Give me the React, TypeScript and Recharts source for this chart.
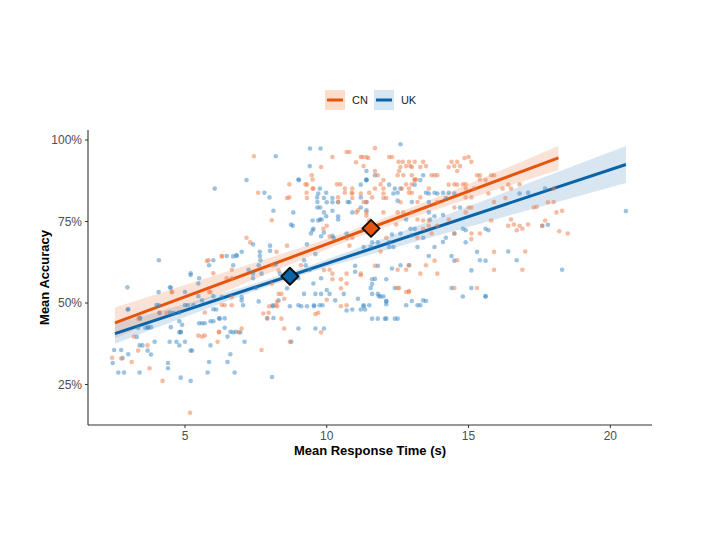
import React from 'react';
import { ComposedChart, XAxis, YAxis, Scatter, Line, Area, Label } from 'recharts';

// Raw observations: [response time (s), accuracy (%)]
const cnPoints: [number, number][] = [
  [7.43,95],[10.7,96.3],[10.8,96.3],[11.7,97.5],[10.2,94.8],[11.03,93.2],[11.27,94.8],[11.46,94.5],[9.47,89.2],[8.68,86.4],
  [9.25,86.4],[9.53,85.1],[10.36,86.4],[10.48,86.4],[11.7,85.1],[7.58,83.8],[8.68,82.4],[9.29,83.8],[10.64,85.1],[10.64,83.8],
  [10.88,83.8],[11.5,83.8],[11.6,82.4],[10.4,82.4],[11.3,81],[11.1,78.4],[8.06,75.4],[9.88,72.8],[10.7,69.9],[10.9,70],
  [7.17,70],[7.3,68.6],[5.83,63.1],[6.3,64.4],[8.23,65.7],[6.65,60.2],[8.1,61.6],[9.09,61.6],[6.0,59.1],[6.47,57.6],
  [6.65,57.6],[8.06,56],[10.1,60.2],[10.2,59],[10.7,59],[11.2,59],[4.53,53.4],[5.9,53.4],[6.65,51.8],[7.76,46.8],
  [7.97,49],[8.25,49],[9.6,46.6],[10.0,51],[10.5,49],[10.7,56],
  [3.36,45.2],[4.1,47.1],[5.7,47.1],[6.4,49.3],[6.65,49.3],[3.68,37],[3.2,39.7],[5.6,39.7],[6.2,41],[6.15,38.1],
  [6.9,41],[7.0,42.2],[2.43,33.2],[2.75,33],[3.12,31.9],[3.35,35.4],[3.75,30],[4.21,26.1],[5.18,16.3],[7.7,35.6],
  [7.9,45.2],[7.95,47],[8.2,49.3],[8.4,45.2],[8.5,42.2],[8.7,38.1],[9.7,47],[9.8,41],[10.7,49.3],[12.9,53.7],
  [11.2,94.8],[11.4,94.8],[12.2,94.8],[12.3,94.8],[11.3,92],[11.7,90.5],[11.8,89.2],[12.0,87.7],[11.9,86.4],[12.53,93.3],
  [12.68,93.3],[12.8,92],[12.95,92],[13.1,93.3],[13.4,93.3],[13.5,92],[12.55,90.5],[12.7,89.2],[13.0,89.2],[13.1,87.7],
  [13.7,89.2],[13.9,89.2],[14.6,93.3],[14.5,92],[14.7,92],[15.0,94.8],[15.1,93.3],[14.6,90.5],[14.9,86.4],[14.8,86.4],
  [14.9,85.1],[15.4,89.2],[15.9,89.2],[15.6,87.7],[14.5,86.4],[12.65,85.1],[12.9,85.1],[12.8,86.4],[13.0,86.4],[13.0,83.8],
  [12.9,83.8],[13.6,85.1],[13.3,82.4],[13.2,81],[13.9,81],[14.9,82.4],[15.1,82.4],[15.9,81],[16.5,85.1],[16.8,86.4],
  [18.0,85.1],[17.4,79.5],[18.0,81],[18.3,78.3],[17.1,74.1],[16.9,72.8],[16.6,74.1],[16.5,75.6],[18.5,71.3],[15.4,71.3],
  [15.1,71.3],[14.3,75.6],[13.2,75.6],[13.4,72.8],[12.1,70],[12.45,74.1],[11.9,65.8],[14.6,63.1],[15.1,69.6],[17.0,65.8],
  [16.9,60.2],[13.9,59],[13.5,61.6],[12.8,60.2],[12.5,54.6],[12.9,53.4],[15.3,54.6],
  [9.8,91.7],[12.6,91.7],[13.3,91.7],[12.5,89.2],[9.5,87.9],[13.1,87.9],[13.15,87.9],[9.3,86.3],[10.9,85.1],[12.0,85.1],
  [9.5,85.1],[10.9,83.6],[11.2,83.6],[12.0,83.6],[8.6,82.2],[9.3,82.2],[10.4,80.9],[10.9,82.2],[11.4,80.9],[12.0,82.2],
  [12.1,82.2],[12.6,80.9],[11.05,77.8],[11.4,77.8],[12.0,77.8],[12.5,77.8],[12.7,77.8],[13.0,77.8],[10.0,73.7],[11.4,76.8],
  [11.5,75.3],[13.4,75.3],[13.6,75.3],[12.9,93.3],[13.0,91.7],
  [14.4,93.3],[14.3,91.7],[14.86,94.5],[13.8,89.2],[15.3,89.2],[15.4,87.9],[15.8,89.2],[14.3,86.3],[14.6,86.3],[15.2,85.1],
  [16.2,85.1],[16.4,86.3],[15.7,83.6],[16.3,82.2],[14.5,79.3],[15.0,79.3],[15.1,79.3],[14.9,77.8],[15.8,75.3],[17.3,79.3],
  [17.8,80.9],[18.1,77.8],[13.6,73.7],[13.9,73.7],[16.4,73.7],[16.8,73.7],[16.7,72.3],[17.6,73.7],[17.7,75.3],[18.2,72.0],
  [8.6,67.6],[10.1,70.4],[10.8,67.6],[8.3,60],[9.9,60.1],[10.2,57.3],[10.5,57.3],[11.2,58.5],[11.7,61.4],[8.3,52.8],
  [8.4,52.8],[8.5,51.3],[10.5,54.5],[8.25,50.4],
  [13.2,70],[13.7,71.3],[14.5,71.3],[13.8,63],[15.9,65.7],[15.9,60.2],[12.5,60.2],[12.9,61.6],[13.3,59],[12.55,54.6],
  [12.8,53.4],[14.5,54.6],
  [4.55,53.4],[5.77,62.9],[6.3,64.3],[4.35,46.9],[5.85,53.4],[6.3,49.4],[6.2,41.2],[5.47,40],[5.7,40],
];

const ukPoints: [number, number][] = [
  [8.2,95],[9.41,97.4],[9.78,97.4],[9.4,92],[11.4,90.5],[11.7,89.2],[7.17,87.7],[9.02,87.7],[9.76,85.1],[11.4,87.7],
  [6.05,85.1],[7.8,83.8],[7.98,82.4],[9.66,82.4],[9.98,83.8],[11.2,82.4],[9.67,81],[9.67,79.3],[9.77,79.3],[10.4,81],
  [10.74,81],[11.4,81],[11.4,78.4],[8.12,78.3],[9.76,75.6],[9.82,75.6],[9.98,76.6],[10.4,75.6],[10.2,78.3],[8.74,74.1],
  [9.44,71.3],[9.53,72.8],[10.24,70],[10.7,71.3],[11.3,67.2],[11.55,67.2],[6.47,64.4],[6.82,64.4],[6.0,63.1],[7.0,65.7],
  [7.64,65.7],[7.64,64.4],[7.66,63.1],[7.24,60.2],[7.6,61.6],[9.26,61.6],[9.4,60.2],[5.2,59.1],[5.5,57.6],[7.4,59],
  [7.4,57.6],[7.7,59],[8.35,59],[9.0,57.6],[9.53,56],[9.8,57.6],[11.7,57.4],[2.97,54.8],[4.08,63.1],[4.07,53.4],
  [4.47,54.8],[5.0,53.4],[6.3,51.8],[7.0,51.8],[7.6,50.5],[8.1,49],[8.7,49],[9.1,49],[9.3,49],[9.55,49],
  [10.0,54],[10.7,47.7],[11.3,49],[11.55,54.6],[7.9,45.4],[8.12,45.4],
  [2.98,48],[3.42,45.2],[4.08,49.3],[4.47,47.1],[4.8,47.1],[4.8,44.4],[5.1,49.3],[5.3,49.3],[5.6,50.8],[5.9,44.4],
  [6.0,44.4],[6.1,48],[6.23,45.2],[7.0,50.8],[7.05,49.3],[3.3,39.6],[3.6,42.4],[3.7,42.4],[3.93,38.1],[3.5,37],
  [3.4,37],[4.46,38.1],[4.7,38.1],[4.8,41],[4.85,41],[5.0,38.1],[4.8,37],[5.2,35.4],[5.25,35.4],[5.9,37],
  [6.4,42.4],[6.5,39.7],[6.7,41],[6.95,41],[7.1,38.1],[2.5,35.6],[2.75,35.6],[2.45,31.6],[2.8,33.1],[3.0,34.3],
  [2.65,28.7],[2.85,28.7],[3.4,28.7],[3.68,35.4],[3.8,34.2],[4.4,31.6],[4.4,30],[4.85,27.1],[5.2,26.1],[5.85,31.9],
  [5.8,28.7],[6.5,31.9],[6.6,34.3],[6.75,28.7],[8.1,49.3],[8.3,50.8],[8.75,38.1],[8.07,27.3],[9.0,42.2],[9.0,49.3],
  [9.55,49.3],[9.75,49.3],[9.85,49.3],[9.6,42.2],[9.9,42.2],[10.3,50.8],[10.9,48],[11.35,48],[11.5,49.3],[11.8,45.2],
  [12.0,52],
  [11.84,52.1],[11.3,49.3],[11.2,48],[12.1,50.5],[11.6,45.2],[12.05,45.2],[12.4,45.2],[12.5,45.2],[13.3,49.3],[13.5,50.6],
  [15.6,52.1],
  [12.6,98.7],[11.4,87.7],[13.4,89.2],[13.3,87.7],[12.4,85.1],[12.5,83.8],[13.8,83.8],[14.1,83.8],[14.3,83.8],[13.5,83.8],
  [12.5,81.4],[13.0,81],[13.6,81],[17.1,83.8],[17.8,74],[20.55,78.2],[15.6,72.8],[14.8,72.8],[14.5,71.3],[14.1,77],
  [13.65,75.6],[12.8,75.6],[13.4,70],[12.95,72.8],[13.1,72.8],[12.6,71.3],[11.6,68.6],[11.8,68.6],[12.2,67.2],[12.35,67.2],
  [13.8,67.2],[14.4,64.4],[14.9,68.6],[15.4,63.1],[15.1,60],[16.4,65.8],[16.7,63.1],[18.3,60.2],[12.9,61.6],[12.4,54.6],
  [13.4,50.8],[13.2,49.3],[15.1,54.6],[15.6,52],
  [9.0,87.9],[11.4,87.9],[13.1,86.3],[11.2,86.3],[12.2,86.3],[12.6,85.1],[9.7,83.6],[12.35,83.6],[9.9,82.2],[10.2,82.2],
  [10.2,80.9],[10.0,80.9],[10.8,80.9],[11.2,79.3],[8.82,77.8],[9.9,77.8],[10.9,77.8],[9.5,75.3],[9.7,75.3],[10.4,76.6],
  [8.8,73.7],[9.5,72.3],[9.8,70.5],[13.0,70.8],
  [13.6,83.6],[13.9,83.6],[14.2,82.2],[14.5,83.6],[16.8,83.6],[17.7,85.1],[14.7,79.3],[13.6,77.8],[13.8,76.6],[14.9,72.3],
  [15.7,72.3],[17.6,73.7],
  [6.82,64.7],[7.4,68],[8.0,67.6],[8.0,66],[9.3,68],[9.9,71.6],[10.2,70.6],[8.2,61.8],[9.2,63.1],[9.6,65],
  [11.0,61.4],[11.0,59.6],[11.8,61.4],[11.6,57.3],[11.6,55.8],[12.2,68.6],[12.1,57.3],[12.3,60.6],[7.5,54.6],[8.6,54.5],
  [9.2,52.8],[9.6,52.8],[9.8,52.8],[10.1,52.8],[10.6,52.8],[11.1,51.3],[11.6,52.8],[11.8,52.8],[12.1,49.6],
  [12.3,71],[14.2,70],[14.1,68.7],[13.2,67.2],[13.6,64.4],[14.5,63],[15.3,65.7],[15.6,63],[12.6,61.6],[11.9,52],
  [12.1,50.6],[12.8,49.3],[13.0,50.6],[14.4,54.6],[14.8,52],[12.1,45.2],
  [4.5,54.7],[5.2,58.6],[5.47,56],[5.85,61.6],[6.7,64.3],[6.7,61.6],[3.0,48.1],[4.0,49.4],[4.1,46.9],[4.6,46.9],
  [5.0,49.4],[5.47,52.1],[6.0,52.1],[6.0,48.1],[6.2,45.3],[6.4,45.3],[4.9,43.3],[5.5,43.8],[5.6,43.8],[5.7,43.8],
  [3.4,45.5],[3.35,42.4],[3.7,42.6],[3.8,42.6],[4.5,42.6],[4.85,41.2],[6.6,41.2],[6.8,41.2],
];

// Fitted regression lines: [x, y]
const cnFit: [number, number][] = [[2.53, 43.9], [18.17, 94.5]];
const ukFit: [number, number][] = [[2.53, 40.6], [20.55, 92.5]];

// Confidence bands: [x, lower, upper]
const cnBand: [number, number, number][] = [
  [2.53, 39.2, 48.6], [5, 48.3, 55.5], [8, 59.3, 63.9], [11.56, 71.7, 74.5],
  [14, 79.1, 82.9], [16, 84.8, 90.2], [18.17, 90.8, 98.2],
];
const ukBand: [number, number, number][] = [
  [2.53, 37.5, 43.7], [5, 45.7, 49.7], [8.7, 57.4, 59.4], [12, 66.0, 69.8],
  [15, 73.3, 79.6], [18, 80.7, 89.7], [20.55, 86.8, 98.2],
];

// Group means: [x, y]
const cnMean: [number, number] = [11.56, 72.9];
const ukMean: [number, number] = [8.7, 58.2];

const xTicks = [5, 10, 15, 20];
const yTicks = [25, 50, 75, 100];
const groups = ['CN', 'UK'];

const CN_COLOR = '#E6550D';
const UK_COLOR = '#0B63A8';
const CN_POINT = '#EE7A45';
const UK_POINT = '#3A87C4';

const toXY = (a: [number, number][]) => a.map(([x, y]) => ({ x, y }));
const toBand = (a: [number, number, number][]) => a.map(([x, lo, hi]) => ({ x, range: [lo, hi] }));

const FONT = '"Liberation Sans", Arial, Helvetica, sans-serif';

const dot = (color: string) => (props: any) => (
  <circle cx={props.cx} cy={props.cy} r={2.3} fill={color} fillOpacity={0.5} />
);

const diamond = (color: string) => (props: any) => {
  const { cx, cy } = props;
  const s = 8.5;
  return (
    <polygon
      points={`${cx},${cy - s} ${cx + s},${cy} ${cx},${cy + s} ${cx - s},${cy}`}
      fill={color}
      stroke="#111"
      strokeWidth={2}
      strokeLinejoin="round"
    />
  );
};

const LegendKey = ({ fill, stroke }: { fill: string; stroke: string }) => (
  <svg width={20} height={20} style={{ display: 'block' }}>
    <rect x={0} y={0} width={20} height={20} fill={fill} />
    <line x1={2} x2={18} y1={10} y2={10} stroke={stroke} strokeWidth={3} />
  </svg>
);

export default function App() {
  return (
    <div style={{ position: 'absolute', left: 0, top: 0, width: 720, height: 540, background: '#fff', fontFamily: FONT }}>
      <ComposedChart width={720} height={540} margin={{ top: 130, right: 68, bottom: 75, left: 0 }}>
        <XAxis
          type="number"
          dataKey="x"
          domain={[1.58, 21.47]}
          allowDataOverflow
          ticks={xTicks}
          height={40}
          tickSize={3}
          tickMargin={3}
          stroke="#333"
          tick={{ fill: '#4d4d4d', fontSize: 12, fontFamily: FONT }}
          axisLine={{ stroke: '#333', strokeWidth: 1.1 }}
          tickLine={{ stroke: '#333' }}
        >
          <Label
            value="Mean Response Time (s)"
            position="insideBottom"
            offset={10}
            style={{ fontSize: 13, fontWeight: 700, fill: '#000', fontFamily: FONT }}
          />
        </XAxis>
        <YAxis
          type="number"
          dataKey="y"
          domain={[12.58, 103.07]}
          allowDataOverflow
          ticks={yTicks}
          width={88}
          tickSize={3}
          tickMargin={3}
          tickFormatter={(v: number) => `${v}%`}
          stroke="#333"
          tick={{ fill: '#4d4d4d', fontSize: 12, fontFamily: FONT }}
          axisLine={{ stroke: '#333', strokeWidth: 1.1 }}
          tickLine={{ stroke: '#333' }}
        >
          <Label
            value="Mean Accuracy"
            angle={-90}
            position="insideLeft"
            offset={44}
            style={{ fontSize: 13, fontWeight: 700, fill: '#000', textAnchor: 'middle', fontFamily: FONT }}
          />
        </YAxis>

        <Scatter name="UK points" data={toXY(ukPoints)} dataKey="y" shape={dot(UK_POINT)} isAnimationActive={false} legendType="none" />
        <Scatter name="CN points" data={toXY(cnPoints)} dataKey="y" shape={dot(CN_POINT)} isAnimationActive={false} legendType="none" />

        <Area data={toBand(ukBand)} dataKey="range" type="monotone" stroke="none" fill={UK_COLOR} fillOpacity={0.16} isAnimationActive={false} />
        <Area data={toBand(cnBand)} dataKey="range" type="monotone" stroke="none" fill={CN_COLOR} fillOpacity={0.17} isAnimationActive={false} />

        <Line data={toXY(ukFit)} dataKey="y" stroke={UK_COLOR} strokeWidth={3} dot={false} isAnimationActive={false} />
        <Line data={toXY(cnFit)} dataKey="y" stroke={CN_COLOR} strokeWidth={3} dot={false} isAnimationActive={false} />

        <Scatter data={[{ x: ukMean[0], y: ukMean[1] }]} dataKey="y" shape={diamond(UK_COLOR)} isAnimationActive={false} />
        <Scatter data={[{ x: cnMean[0], y: cnMean[1] }]} dataKey="y" shape={diamond(CN_COLOR)} isAnimationActive={false} />
      </ComposedChart>

      <div style={{ position: 'absolute', top: 90, left: 325, display: 'flex', alignItems: 'center', fontSize: 11, color: '#222' }}>
        <LegendKey fill="#FCDCCB" stroke={CN_COLOR} />
        <span style={{ marginLeft: 7, marginRight: 6 }}>{groups[0]}</span>
        <LegendKey fill="#D6E6F2" stroke={UK_COLOR} />
        <span style={{ marginLeft: 7 }}>{groups[1]}</span>
      </div>
    </div>
  );
}
